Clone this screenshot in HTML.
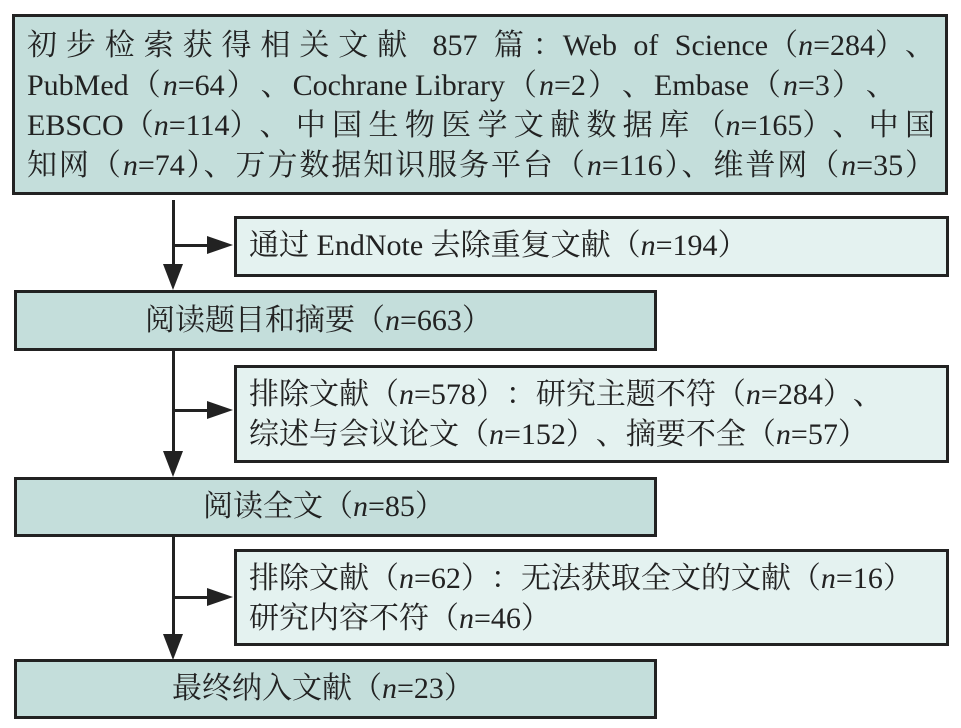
<!DOCTYPE html>
<html><head><meta charset="utf-8"><style>
body{margin:0;width:961px;height:728px;background:#fff;position:relative;overflow:hidden;font-family:"Liberation Serif","Noto Serif CJK SC",serif;color:#222;}
.b{position:absolute;box-sizing:border-box;border:3px solid #222;}
.d{background:#c4dedb}.l{background:#e4f2f0}
.t{position:absolute;font-size:30px;white-space:nowrap;line-height:40px;}
.j{text-align:justify;text-align-last:justify;white-space:normal;}
i{font-style:italic}
.o,.c{display:inline-block;width:1em;text-align:center}
.w .o,.w .c{width:calc(1em + 4px)}
.v{position:absolute;left:172px;width:3px;background:#222}
.h{position:absolute;left:172px;height:3px;background:#222}
.ad{position:absolute;width:0;height:0;border-left:10px solid transparent;border-right:10px solid transparent;border-top:26px solid #222}
.ar{position:absolute;width:0;height:0;border-top:9px solid transparent;border-bottom:9px solid transparent;border-left:26px solid #222}
</style></head><body>
<div class="b d" style="left:12px;top:14px;width:936px;height:181px"></div>
<div class="t j" style="left:27px;top:26px;width:908px">初步检索获得相关文献 857 篇<span class="c">：</span>Web of Science<span class="o">（</span><i>n</i>=284<span class="c">）</span><span class="c">、</span></div>
<div class="t w" style="left:27px;top:66px;width:908px">PubMed<span class="o">（</span><i>n</i>=64<span class="c">）</span><span class="c">、</span>Cochrane Library<span class="o">（</span><i>n</i>=2<span class="c">）</span><span class="c">、</span>Embase<span class="o">（</span><i>n</i>=3<span class="c">）</span><span class="c">、</span></div>
<div class="t j" style="left:27px;top:106px;width:908px">EBSCO<span class="o">（</span><i>n</i>=114<span class="c">）</span><span class="c">、</span>中国生物医学文献数据库<span class="o">（</span><i>n</i>=165<span class="c">）</span><span class="c">、</span>中国</div>
<div class="t j" style="left:27px;top:146px;width:908px">知网（<i>n</i>=74）、万方数据知识服务平台（<i>n</i>=116）、维普网（<i>n</i>=35）</div>

<div class="v" style="top:200px;height:75px"></div>
<div class="h" style="top:244px;width:40px"></div>
<div class="ar" style="left:207px;top:236px"></div>
<div class="ad" style="left:163px;top:264px"></div>
<div class="b l" style="left:234px;top:216px;width:715px;height:61px"></div>
<div class="t" style="left:249px;top:226px">通过 EndNote 去除重复文献<span class="o">（</span><i>n</i>=194<span class="c">）</span></div>

<div class="b d" style="left:14px;top:290px;width:643px;height:61px"></div>
<div class="t" style="left:145px;top:301px">阅读题目和摘要<span class="o">（</span><i>n</i>=663<span class="c">）</span></div>

<div class="v" style="top:351px;height:110px"></div>
<div class="h" style="top:409px;width:40px"></div>
<div class="ar" style="left:207px;top:401px"></div>
<div class="ad" style="left:163px;top:451px"></div>
<div class="b l" style="left:234px;top:365px;width:715px;height:98px"></div>
<div class="t" style="left:249px;top:375px">排除文献<span class="o">（</span><i>n</i>=578<span class="c">）</span><span class="c">：</span>研究主题不符<span class="o">（</span><i>n</i>=284<span class="c">）</span><span class="c">、</span></div>
<div class="t" style="left:249px;top:415px">综述与会议论文<span class="o">（</span><i>n</i>=152<span class="c">）</span><span class="c">、</span>摘要不全<span class="o">（</span><i>n</i>=57<span class="c">）</span></div>

<div class="b d" style="left:14px;top:477px;width:643px;height:60px"></div>
<div class="t" style="left:203px;top:487px">阅读全文<span class="o">（</span><i>n</i>=85<span class="c">）</span></div>

<div class="v" style="top:537px;height:110px"></div>
<div class="h" style="top:596px;width:40px"></div>
<div class="ar" style="left:207px;top:588px"></div>
<div class="ad" style="left:163px;top:634px"></div>
<div class="b l" style="left:234px;top:549px;width:715px;height:97px"></div>
<div class="t" style="left:249px;top:559px">排除文献<span class="o">（</span><i>n</i>=62<span class="c">）</span><span class="c">：</span>无法获取全文的文献<span class="o">（</span><i>n</i>=16<span class="c">）</span></div>
<div class="t" style="left:249px;top:599px">研究内容不符<span class="o">（</span><i>n</i>=46<span class="c">）</span></div>

<div class="b d" style="left:14px;top:659px;width:643px;height:60px"></div>
<div class="t" style="left:172px;top:669px">最终纳入文献<span class="o">（</span><i>n</i>=23<span class="c">）</span></div>
</body></html>
